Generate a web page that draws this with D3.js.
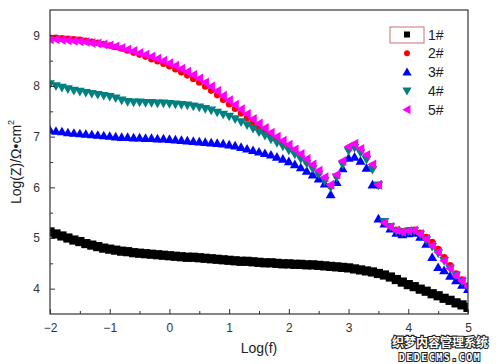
<!DOCTYPE html>
<html><head><meta charset="utf-8">
<script src="https://cdn.jsdelivr.net/npm/d3@7/dist/d3.min.js"></script>
<style>body{margin:0;background:#fff}svg{display:block}</style>
</head><body>
<svg id="chart" width="500" height="364"></svg>
<script>
const logF = [-2.0,-1.9,-1.8,-1.7,-1.6,-1.5,-1.4,-1.3,-1.2,-1.1,-1.0,-0.9,-0.8,-0.7,-0.6,-0.5,-0.4,-0.3,-0.2,-0.1,
0.0,0.1,0.2,0.3,0.4,0.5,0.6,0.7,0.8,0.9,1.0,1.1,1.2,1.3,1.4,1.5,1.6,1.7,1.8,1.9,
2.0,2.1,2.2,2.3,2.4,2.5,2.6,2.7,2.8,2.9,3.0,3.1,3.2,3.3,3.4,3.5,3.6,3.7,3.8,3.9,
4.0,4.1,4.2,4.3,4.4,4.5,4.6,4.7,4.8,4.9,5.0];

const s1 = [5.12,5.08,5.04,5.00,4.96,4.93,4.89,4.86,4.83,4.80,4.78,4.76,4.74,4.73,4.71,4.70,4.69,4.68,4.67,4.66,
4.65,4.64,4.63,4.62,4.62,4.61,4.60,4.59,4.58,4.57,4.56,4.55,4.54,4.54,4.53,4.52,4.51,4.51,4.50,4.49,
4.49,4.48,4.48,4.47,4.47,4.46,4.45,4.44,4.43,4.42,4.41,4.39,4.37,4.35,4.33,4.30,4.27,4.23,4.18,4.13,
4.08,4.04,3.99,3.95,3.90,3.86,3.81,3.77,3.72,3.68,3.63];

const s2 = [8.95,8.95,8.94,8.93,8.92,8.91,8.89,8.87,8.85,8.83,8.80,8.77,8.74,8.70,8.66,8.62,8.58,8.53,8.49,8.44,
8.39,8.33,8.27,8.21,8.14,8.07,7.99,7.91,7.82,7.73,7.64,7.55,7.46,7.37,7.28,7.19,7.10,7.02,6.94,6.86,
6.78,6.69,6.60,6.50,6.40,6.28,6.15,6.02,6.22,6.50,6.78,6.84,6.74,6.62,6.43,6.03,5.31,5.23,5.16,5.13,
5.15,5.16,5.10,5.02,4.92,4.78,4.62,4.46,4.30,4.18,4.06];

const s3 = [7.13,7.11,7.10,7.08,7.07,7.06,7.05,7.04,7.03,7.02,7.01,7.00,6.99,6.99,6.98,6.98,6.97,6.97,6.96,6.96,
6.95,6.94,6.93,6.92,6.91,6.90,6.89,6.88,6.87,6.86,6.84,6.82,6.79,6.76,6.73,6.70,6.67,6.64,6.60,6.56,
6.51,6.45,6.39,6.32,6.25,6.17,6.07,5.86,6.10,6.37,6.58,6.60,6.52,6.38,6.05,5.38,5.28,5.18,5.10,5.07,
5.09,5.10,5.02,4.88,4.62,4.42,4.36,4.25,4.16,4.07,3.99];

const s4 = [8.04,8.00,7.97,7.94,7.91,7.89,7.87,7.85,7.83,7.81,7.79,7.76,7.72,7.69,7.68,7.68,7.67,7.67,7.66,7.66,
7.65,7.64,7.63,7.62,7.60,7.58,7.55,7.52,7.48,7.44,7.40,7.35,7.29,7.23,7.16,7.09,7.02,6.95,6.88,6.81,
6.73,6.65,6.56,6.47,6.37,6.26,6.13,6.00,6.20,6.45,6.72,6.78,6.68,6.55,6.35,6.04,5.32,5.22,5.14,5.11,
5.13,5.14,5.07,4.96,4.83,4.70,4.55,4.40,4.26,4.14,4.03];

const s5 = [8.92,8.92,8.91,8.90,8.89,8.88,8.87,8.85,8.84,8.82,8.80,8.78,8.75,8.72,8.69,8.65,8.62,8.58,8.54,8.50,
8.45,8.40,8.34,8.28,8.22,8.15,8.07,7.99,7.90,7.81,7.72,7.63,7.54,7.45,7.35,7.26,7.17,7.08,7.00,6.92,
6.84,6.75,6.66,6.56,6.45,6.33,6.20,6.05,6.25,6.52,6.80,6.86,6.76,6.64,6.45,6.05,5.30,5.22,5.15,5.12,
5.14,5.15,5.08,4.98,4.85,4.72,4.55,4.40,4.26,4.15,4.04];

const seriesNames = ["1#","2#","3#","4#","5#"];
const seriesValues = [s1,s2,s3,s4,s5];
const xTicks = [-2,-1,0,1,2,3,4,5];
const yTicks = [4,5,6,7,8,9];

const colors = ["#000000","#ff0000","#0000ff","#008080","#ff00ff"];
const shapes = ["square","circle","up","down","left"];

const svg = d3.select("#chart");
const L=50,R=468,T=10,B=314;
const x = d3.scaleLinear().domain([-2,5]).range([L,R]);
const y = d3.scaleLinear().domain([3.5,9.5]).range([B,T]);
const FONT = "Liberation Sans, Arial, sans-serif";

function markerPath(shape, s){
  if(shape==="square") return `M${-s},${-s}H${s}V${s}H${-s}Z`;
  if(shape==="circle") return d3.symbol(d3.symbolCircle, Math.PI*s*s*0.85)();
  const h=s*1.15;
  if(shape==="up") return `M0,${-h}L${h},${h*0.75}L${-h},${h*0.75}Z`;
  if(shape==="down") return `M0,${h}L${h},${-h*0.75}L${-h},${-h*0.75}Z`;
  if(shape==="left") return `M${-h},0L${h*0.75},${-h}L${h*0.75},${h}Z`;
}

svg.append("defs").append("clipPath").attr("id","clip")
  .append("rect").attr("x",L).attr("y",T).attr("width",R-L).attr("height",B-T);

const plot = svg.append("g").attr("clip-path","url(#clip)");
const sizes=[4.6,3.6,4.3,4.3,4.3];
seriesValues.forEach((vals,si)=>{
  const p = markerPath(shapes[si], sizes[si]);
  plot.append("g").selectAll("path").data(logF.map((f,i)=>[f,vals[i]])).join("path")
    .attr("d",p)
    .attr("transform",d=>`translate(${x(d[0])},${y(d[1])})`)
    .attr("fill",colors[si]);
});

// frame
svg.append("rect").attr("x",L).attr("y",T).attr("width",R-L).attr("height",B-T)
  .attr("fill","none").attr("stroke","#333").attr("stroke-width",1.2);

// x axis
const xAxis = d3.axisBottom(x).tickValues(xTicks).tickFormat(d3.format("d")).tickSizeInner(-5).tickSizeOuter(0).tickPadding(9);
const gx = svg.append("g").attr("transform",`translate(0,${B})`).call(xAxis);
gx.select(".domain").remove();
svg.append("g").attr("transform",`translate(0,${B})`)
  .call(d3.axisBottom(x).tickValues([-1.5,-0.5,0.5,1.5,2.5,3.5,4.5]).tickFormat("").tickSizeInner(-3).tickSizeOuter(0))
  .select(".domain").remove();

const yAxis = d3.axisLeft(y).tickValues(yTicks).tickFormat(d3.format("d")).tickSizeInner(-5).tickSizeOuter(0).tickPadding(10);
const gy = svg.append("g").attr("transform",`translate(${L},0)`).call(yAxis);
gy.select(".domain").remove();
svg.append("g").attr("transform",`translate(${L},0)`)
  .call(d3.axisLeft(y).tickValues([4.5,5.5,6.5,7.5,8.5]).tickFormat("").tickSizeInner(-3).tickSizeOuter(0))
  .select(".domain").remove();

svg.selectAll(".tick line").attr("stroke","#333");
svg.selectAll(".tick text").attr("font-family",FONT).attr("font-size",12).attr("fill","#333");

svg.append("text").attr("x",259).attr("y",353).attr("text-anchor","middle")
  .attr("font-family",FONT).attr("font-size",14).attr("fill","#222").text("Log(f)");

const yt = svg.append("text").attr("transform",`translate(21,${(T+B)/2}) rotate(-90)`).attr("text-anchor","middle")
  .attr("font-family",FONT).attr("font-size",14).attr("fill","#222");
yt.append("tspan").text("Log(Z)/Ω•cm");
yt.append("tspan").attr("dy",-7).attr("font-size",9).text("2");

// legend
const lg = svg.append("g");
lg.append("rect").attr("x",390).attr("y",27).attr("width",34).attr("height",16)
  .attr("fill","none").attr("stroke","#d07070").attr("stroke-width",1);
seriesNames.forEach((n,i)=>{
  const cy = 34.5 + i*18.8;
  lg.append("path").attr("d",markerPath(shapes[i], i===0?3:(i===1?3.2:4)))
    .attr("transform",`translate(407,${cy})`).attr("fill",colors[i]);
  lg.append("text").attr("x",428).attr("y",cy+5)
    .attr("font-family",FONT).attr("font-size",14).attr("fill","#222").text(n);
});

// watermark
svg.append("text").attr("x",440).attr("y",347).attr("text-anchor","middle")
  .attr("font-family","Noto Sans CJK SC, sans-serif").attr("font-size",12).attr("font-weight","bold")
  .attr("fill","#fff").attr("stroke","#222").attr("stroke-width",2.2).attr("paint-order","stroke").text("织梦内容管理系统");
svg.append("text").attr("x",440).attr("y",361).attr("text-anchor","middle")
  .attr("font-family","DejaVu Sans Mono, monospace").attr("font-size",10).attr("font-weight","bold").attr("letter-spacing",1.5)
  .attr("fill","#fff").attr("stroke","#222").attr("stroke-width",2).attr("paint-order","stroke").text("DEDECMS.COM");
</script>
</body></html>
